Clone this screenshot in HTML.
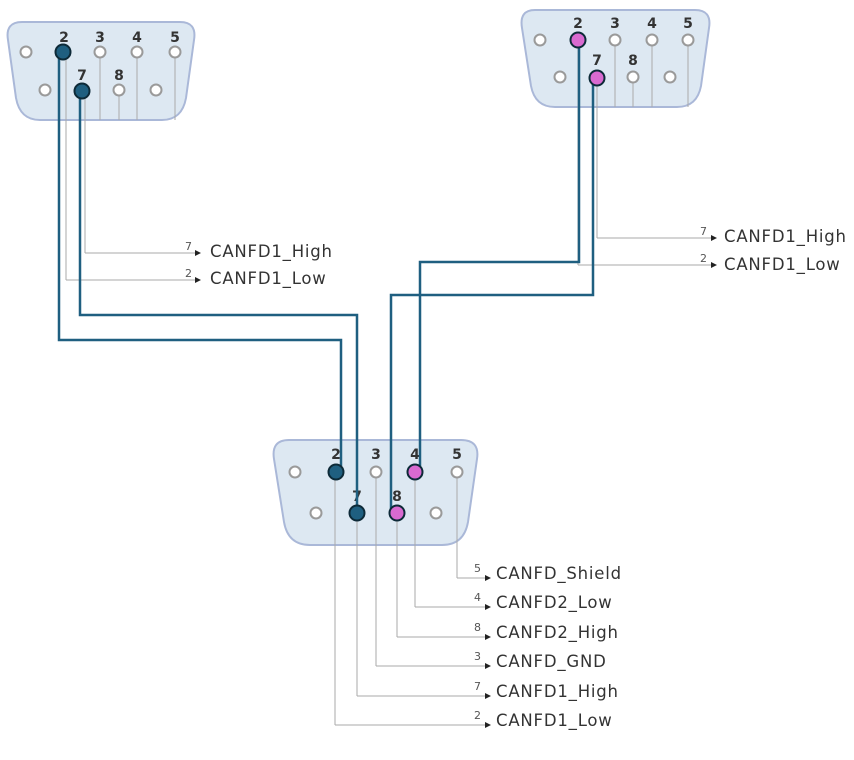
<!DOCTYPE html>
<html><head><meta charset="utf-8"><style>
html,body{margin:0;padding:0;background:#fff;}
svg{display:block;}
text{font-family:"DejaVu Sans","Liberation Sans",sans-serif;}
.sh{fill:#dde8f2;stroke:#aab8d8;stroke-width:2;}
.p{fill:#fff;stroke:#9a9a9a;stroke-width:2;}
.n{font-size:14px;font-weight:bold;fill:#333;text-anchor:middle;}
.g{stroke:#aaa;stroke-width:1;fill:none;}
.w{stroke:#1f5f80;stroke-width:2.5;fill:none;}
.d{fill:#1f5f80;stroke:#0d2a38;stroke-width:2;}
.m{fill:#d96ad0;stroke:#0d2a38;stroke-width:2;}
.l{font-size:16.5px;fill:#333;letter-spacing:0.8px;}
.s{font-size:11px;fill:#555;text-anchor:end;}
</style></head><body>
<svg width="854" height="760" viewBox="0 0 854 760">
<defs><marker id="a" markerWidth="6" markerHeight="6" refX="5" refY="3" orient="auto"><path d="M0,0 L6,3 L0,6z" fill="#222"/></marker></defs>

<!-- left connector -->
<path class="sh" d="M22,22 H180 Q197,22 194,40 L186,98 Q182,120 162,120 H40 Q20,120 16,98 L8,40 Q5,22 22,22z"/>
<g class="g"><line x1="66" y1="52" x2="66" y2="280"/><line x1="66" y1="280" x2="200" y2="280" marker-end="url(#a)"/>
<line x1="85" y1="90" x2="85" y2="253"/><line x1="85" y1="253" x2="200" y2="253" marker-end="url(#a)"/>
<line x1="100" y1="52" x2="100" y2="120"/><line x1="137" y1="52" x2="137" y2="120"/><line x1="175" y1="52" x2="175" y2="120"/><line x1="119" y1="90" x2="119" y2="120"/></g>
<circle class="p" cx="26" cy="52" r="5.5"/><circle class="p" cx="100" cy="52" r="5.5"/><circle class="p" cx="137" cy="52" r="5.5"/><circle class="p" cx="175" cy="52" r="5.5"/>
<circle class="p" cx="45" cy="90" r="5.5"/><circle class="p" cx="119" cy="90" r="5.5"/><circle class="p" cx="156" cy="90" r="5.5"/>
<text class="n" x="64" y="42">2</text><text class="n" x="100" y="42">3</text><text class="n" x="137" y="42">4</text><text class="n" x="175" y="42">5</text>
<text class="n" x="82" y="80">7</text><text class="n" x="119" y="80">8</text>
<text class="s" x="192" y="250">7</text><text class="l" x="210" y="257">CANFD1_High</text>
<text class="s" x="192" y="277">2</text><text class="l" x="210" y="284">CANFD1_Low</text>

<!-- right connector -->
<path class="sh" d="M535,10 H695 Q712,10 709,28 L701,86 Q697,107 677,107 H555 Q535,107 531,86 L522,28 Q519,10 535,10z"/>
<g class="g"><line x1="578" y1="40" x2="578" y2="265"/><line x1="578" y1="265" x2="716" y2="265" marker-end="url(#a)"/>
<line x1="597" y1="77" x2="597" y2="238"/><line x1="597" y1="238" x2="716" y2="238" marker-end="url(#a)"/>
<line x1="615" y1="40" x2="615" y2="107"/><line x1="652" y1="40" x2="652" y2="107"/><line x1="688" y1="40" x2="688" y2="107"/><line x1="633" y1="77" x2="633" y2="107"/></g>
<circle class="p" cx="540" cy="40" r="5.5"/><circle class="p" cx="615" cy="40" r="5.5"/><circle class="p" cx="652" cy="40" r="5.5"/><circle class="p" cx="688" cy="40" r="5.5"/>
<circle class="p" cx="560" cy="77" r="5.5"/><circle class="p" cx="633" cy="77" r="5.5"/><circle class="p" cx="670" cy="77" r="5.5"/>
<text class="n" x="578" y="28">2</text><text class="n" x="615" y="28">3</text><text class="n" x="652" y="28">4</text><text class="n" x="688" y="28">5</text>
<text class="n" x="597" y="65">7</text><text class="n" x="633" y="65">8</text>
<text class="s" x="707" y="235">7</text><text class="l" x="724" y="242">CANFD1_High</text>
<text class="s" x="707" y="262">2</text><text class="l" x="724" y="270">CANFD1_Low</text>

<!-- bottom connector -->
<path class="sh" d="M289,440 H461 Q480,440 477,459 L468,522 Q464,545 442,545 H310 Q288,545 284,522 L274,459 Q271,440 289,440z"/>
<g class="g">
<line x1="457" y1="472" x2="457" y2="578"/><line x1="457" y1="578" x2="490" y2="578" marker-end="url(#a)"/>
<line x1="415" y1="472" x2="415" y2="607"/><line x1="415" y1="607" x2="490" y2="607" marker-end="url(#a)"/>
<line x1="397" y1="513" x2="397" y2="637"/><line x1="397" y1="637" x2="490" y2="637" marker-end="url(#a)"/>
<line x1="376" y1="472" x2="376" y2="666"/><line x1="376" y1="666" x2="490" y2="666" marker-end="url(#a)"/>
<line x1="357" y1="513" x2="357" y2="696"/><line x1="357" y1="696" x2="490" y2="696" marker-end="url(#a)"/>
<line x1="335" y1="472" x2="335" y2="725"/><line x1="335" y1="725" x2="490" y2="725" marker-end="url(#a)"/>
</g>
<circle class="p" cx="295" cy="472" r="5.5"/><circle class="p" cx="376" cy="472" r="5.5"/><circle class="p" cx="457" cy="472" r="5.5"/>
<circle class="p" cx="316" cy="513" r="5.5"/><circle class="p" cx="436" cy="513" r="5.5"/>
<text class="n" x="336" y="459">2</text><text class="n" x="376" y="459">3</text><text class="n" x="415" y="459">4</text><text class="n" x="457" y="459">5</text>
<text class="n" x="357" y="501">7</text><text class="n" x="397" y="501">8</text>
<text class="s" x="481" y="572">5</text><text class="l" x="496" y="579">CANFD_Shield</text>
<text class="s" x="481" y="601">4</text><text class="l" x="496" y="608">CANFD2_Low</text>
<text class="s" x="481" y="631">8</text><text class="l" x="496" y="638">CANFD2_High</text>
<text class="s" x="481" y="660">3</text><text class="l" x="496" y="667">CANFD_GND</text>
<text class="s" x="481" y="690">7</text><text class="l" x="496" y="697">CANFD1_High</text>
<text class="s" x="481" y="719">2</text><text class="l" x="496" y="726">CANFD1_Low</text>

<!-- wires -->
<polyline class="w" points="59,52 59,340 341,340 341,472"/>
<polyline class="w" points="80,90 80,315 357,315 357,513"/>
<polyline class="w" points="579,40 579,262 420,262 420,472"/>
<polyline class="w" points="593,77 593,295 391,295 391,513"/>

<circle class="d" cx="63" cy="52" r="7.5"/><circle class="d" cx="82" cy="91" r="7.5"/>
<circle class="m" cx="578" cy="40" r="7.5"/><circle class="m" cx="597" cy="78" r="7.5"/>
<circle class="d" cx="336" cy="472" r="7.5"/><circle class="d" cx="357" cy="513" r="7.5"/>
<circle class="m" cx="415" cy="472" r="7.5"/><circle class="m" cx="397" cy="513" r="7.5"/>
</svg>
</body></html>
